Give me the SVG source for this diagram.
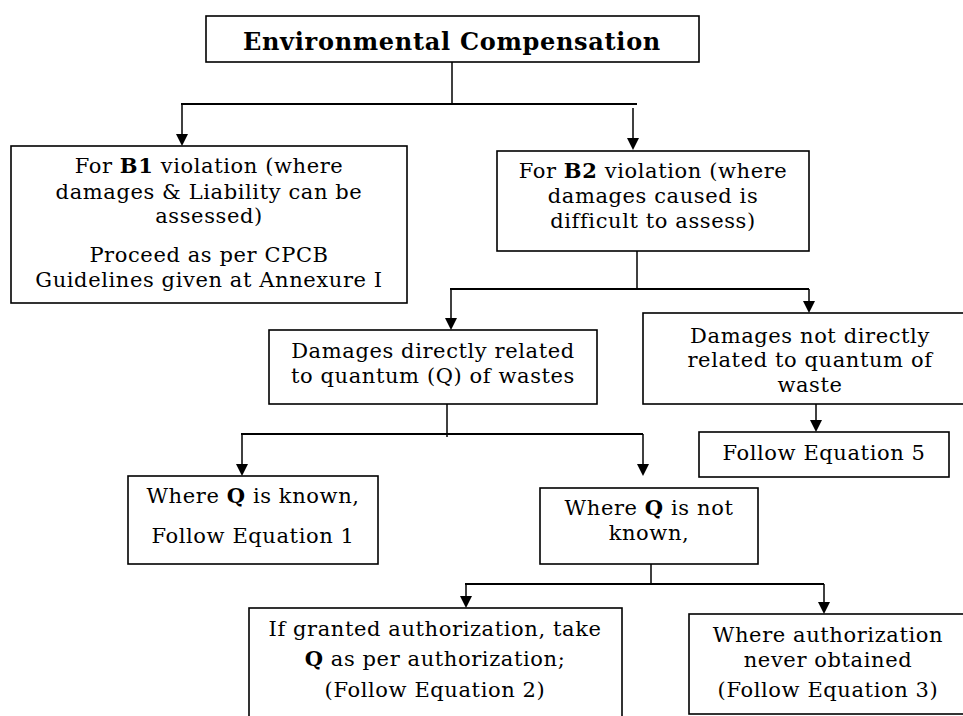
<svg xmlns="http://www.w3.org/2000/svg" width="963" height="716" viewBox="0 0 963 716">
<style>
.box{fill:#fff;stroke:#000;stroke-width:1.6}
.t{font-family:"DejaVu Serif","Liberation Serif",serif;font-size:21px;letter-spacing:0.6px;fill:#000;text-anchor:middle}
.b{font-weight:bold}
.ttl{font-family:"DejaVu Serif","Liberation Serif",serif;font-size:24px;letter-spacing:0.7px;font-weight:bold;text-anchor:middle}
.c{stroke:#000;stroke-width:1.5;fill:none}
.h{stroke:#000;stroke-width:2.2;fill:none}
</style>
<rect width="963" height="716" fill="#fff"/>
<g id="connectors">
<line class="c" x1="452" y1="62" x2="452" y2="104"/>
<line class="h" x1="181" y1="104" x2="637" y2="104"/>
<line class="c" x1="637" y1="251" x2="637" y2="289"/>
<line class="h" x1="450" y1="289" x2="809" y2="289"/>
<line class="c" x1="447" y1="404" x2="447" y2="437"/>
<line class="h" x1="241" y1="434" x2="643" y2="434"/>
<line class="c" x1="651" y1="564" x2="651" y2="584"/>
<line class="h" x1="465" y1="584" x2="824" y2="584"/>
<line class="c" x1="182" y1="104" x2="182" y2="136"/><path d="M176,134 L188,134 L182,146 Z"/>
<line class="c" x1="633" y1="108" x2="633" y2="140"/><path d="M627,138 L639,138 L633,150 Z"/>
<line class="c" x1="451" y1="289" x2="451" y2="320"/><path d="M445,318 L457,318 L451,330 Z"/>
<line class="c" x1="809" y1="289" x2="809" y2="303"/><path d="M803,301 L815,301 L809,313 Z"/>
<line class="c" x1="242" y1="434" x2="242" y2="466"/><path d="M236,464 L248,464 L242,476 Z"/>
<line class="c" x1="643" y1="434" x2="643" y2="466"/><path d="M637,464 L649,464 L643,476 Z"/>
<line class="c" x1="816" y1="404" x2="816" y2="422"/><path d="M810,420 L822,420 L816,432 Z"/>
<line class="c" x1="466" y1="584" x2="466" y2="598"/><path d="M460,596 L472,596 L466,608 Z"/>
<line class="c" x1="824" y1="584" x2="824" y2="604"/><path d="M818,602 L830,602 L824,614 Z"/>
</g>
<g id="title">
<rect class="box" x="206" y="16" width="493" height="46"/>
<text class="ttl" x="452" y="50">Environmental Compensation</text>
</g>
<g id="b1">
<rect class="box" x="11" y="146" width="396" height="157"/>
<text class="t" x="209" y="173">For <tspan class="b">B1</tspan> violation (where</text>
<text class="t" x="209" y="199">damages &amp; Liability can be</text>
<text class="t" x="209" y="223">assessed)</text>
<text class="t" x="209" y="262">Proceed as per CPCB</text>
<text class="t" x="209" y="287">Guidelines given at Annexure I</text>
</g>
<g id="b2">
<rect class="box" x="497" y="151" width="312" height="100"/>
<text class="t" x="653" y="178">For <tspan class="b">B2</tspan> violation (where</text>
<text class="t" x="653" y="203">damages caused is</text>
<text class="t" x="653" y="228">difficult to assess)</text>
</g>
<g id="direct">
<rect class="box" x="269" y="330" width="328" height="74"/>
<text class="t" x="433" y="358">Damages directly related</text>
<text class="t" x="433" y="383">to quantum (Q) of wastes</text>
</g>
<g id="notdirect">
<rect class="box" x="643" y="313" width="330" height="91"/>
<text class="t" x="810" y="343">Damages not directly</text>
<text class="t" x="810" y="367">related to quantum of</text>
<text class="t" x="810" y="392">waste</text>
</g>
<g id="eq5">
<rect class="box" x="699" y="432" width="250" height="45"/>
<text class="t" x="824" y="460">Follow Equation 5</text>
</g>
<g id="qknown">
<rect class="box" x="128" y="476" width="250" height="88"/>
<text class="t" x="253" y="503">Where <tspan class="b">Q</tspan> is known,</text>
<text class="t" x="253" y="543">Follow Equation 1</text>
</g>
<g id="qnotknown">
<rect class="box" x="540" y="488" width="218" height="76"/>
<text class="t" x="649" y="515">Where <tspan class="b">Q</tspan> is not</text>
<text class="t" x="649" y="540">known,</text>
</g>
<g id="granted">
<rect class="box" x="249" y="608" width="373" height="112"/>
<text class="t" x="435" y="636">If granted authorization, take</text>
<text class="t" x="435" y="666"><tspan class="b">Q</tspan> as per authorization;</text>
<text class="t" x="435" y="697">(Follow Equation 2)</text>
</g>
<g id="never">
<rect class="box" x="689" y="614" width="290" height="100"/>
<text class="t" x="828" y="642">Where authorization</text>
<text class="t" x="828" y="667">never obtained</text>
<text class="t" x="828" y="697">(Follow Equation 3)</text>
</g>
</svg>
